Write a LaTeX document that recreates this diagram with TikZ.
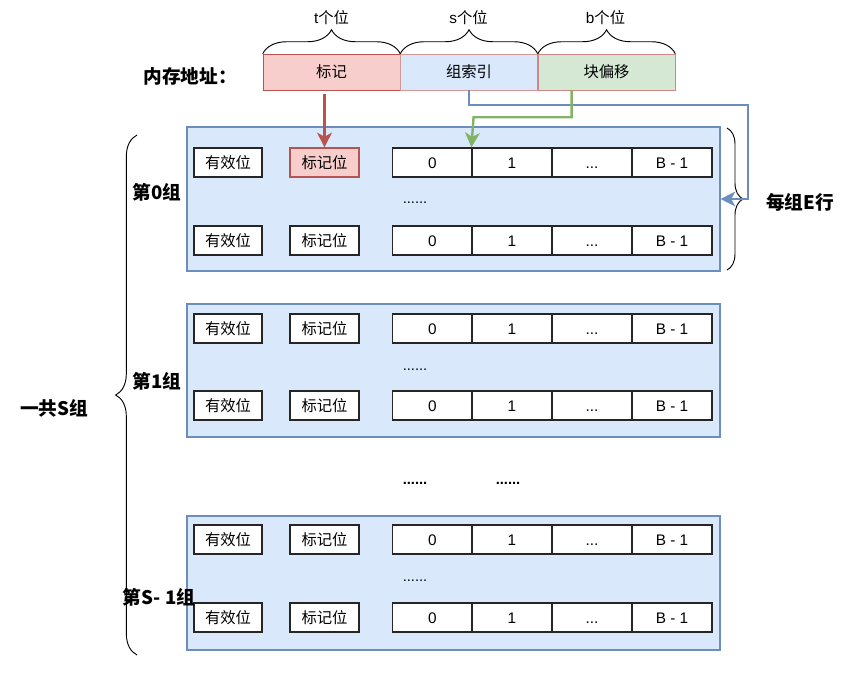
\documentclass[tikz,border=0pt]{standalone}
\usepackage{fontspec}
\setmainfont{Noto Sans CJK SC}
\newfontfamily\latinfont{Liberation Sans}
\usetikzlibrary{positioning,arrows.meta,decorations.pathreplacing}
\definecolor{tagfill}{HTML}{F8CECC}
\definecolor{tagline}{HTML}{B85450}
\definecolor{setfill}{HTML}{DAE8FC}
\definecolor{setline}{HTML}{6C8EBF}
\definecolor{offfill}{HTML}{D5E8D4}
\definecolor{offline}{HTML}{82B366}
\newcommand{\blkdots}{{\latinfont...}}
\tikzset{
  field/.style={minimum width=102.75pt,minimum height=27pt,inner sep=0pt},
  cell/.style={draw=black!85,line width=0.9pt,minimum height=21.75pt,inner sep=0pt},
  block/.style={cell,fill=white,minimum width=60pt,text height=8.3pt,text depth=0pt,
    font=\fontsize{11.5}{13}\selectfont\latinfont},
  groupbox/.style={draw=setline,fill=setfill,line width=0.8pt,minimum width=399.75pt,inner sep=0pt},
  curly/.style={decorate,line width=0.7pt},
  title/.style={font=\fontsize{14}{16}\selectfont\bfseries},
  dots/.style={font=\fontsize{11}{13}\selectfont\latinfont},
  lookup/.style={-{Stealth[length=11pt,width=11pt,inset=3pt]},line width=1.8pt}
}

\begin{document}
\begin{tikzpicture}[x=0.75pt,y=-0.75pt,font=\fontsize{11.5}{13}\selectfont]
  \useasboundingbox (0,0) rectangle (851,686);
  % memory address
  \node[field,draw=tagline,fill=tagfill] (tag) at (331.5,72) {标记};
  \node[field,draw=tagline!60,fill=setfill,right=0pt of tag] (idx) {组索引};
  \node[field,draw=tagline!70,fill=offfill,right=0pt of idx] (off) {块偏移};
  \draw[offline,line width=0.7pt] (off.north west) -- (off.south west);
  \node[title] (addr) at (190,76) {内存地址：};
  \draw[curly,decoration={brace,amplitude=18pt}] (tag.north west) -- (tag.north east);
  \draw[curly,decoration={brace,amplitude=18pt}] (idx.north west) -- (idx.north east);
  \draw[curly,decoration={brace,amplitude=18pt}] (off.north west) -- (off.north east);
  \node (tbits) at (331.5,18) {{\latinfont t}个位};
  \node (sbits) at (468.5,18) {{\latinfont s}个位};
  \node (bbits) at (605.5,18) {{\latinfont b}个位};
  % the S groups
  \foreach \g/\cy/\h/\ya/\yb/\dy/\lx/\ly/\name/\tf/\td in {
      0/199/144/162.5/240.5/203/157/192/第0组/tagfill/tagline,
      1/370.5/133/328.5/405.5/370/157/381/第1组/white/black!85,
      2/583/134/539.5/617.5/581/159/597/第S- 1组/white/black!85}{
    \node[groupbox,minimum height=\h*0.75pt] (g\g) at (453.5,\cy) {};
    \foreach \r/\y/\rf/\rd in {a/\ya/\tf/\td,b/\yb/white/black!85}{
      \node[cell,fill=white,minimum width=51pt] (v\g\r) at (228,\y) {有效位};
      \node[cell,fill=\rf,draw=\rd,minimum width=51.75pt] (t\g\r) at (324.5,\y) {标记位};
      \foreach \k/\x/\txt in {0/432.5/0,1/512/1,2/592/\blkdots,3/672/B - 1}
        \node[block] (d\g\r\k) at (\x,\y) {\txt};
    }
    \node[dots] (m\g) at (415,\dy) {\blkdots\blkdots};
    \node[title] (l\g) at (\lx,\ly) {\name};
  }
  \node[dots,font=\fontsize{11}{13}\selectfont\latinfont\bfseries] (gapa) at (415,483) {......};
  \node[dots,font=\fontsize{11}{13}\selectfont\latinfont\bfseries] (gapb) at (508,483) {......};
  % braces round the groups
  \draw[curly,decoration={brace,amplitude=16pt}] (137,655) -- (137,135);
  \node[title] (total) at (54,408) {一共S组};
  \draw[curly,decoration={brace,amplitude=12pt}] (727,128) -- (727,270);
  \node[title] (lines) at (800,202) {每组E行};
  % lookups
  \draw[lookup,tagline] ([yshift=-3pt]t0a.north |- tag.south) -- (t0a.north);
  \draw[lookup,setline] (idx.south) |- ++(279,15) |- (g0.east);
  \draw[lookup,offline] ([xshift=-26.25pt]off.south) |- ++(-98,27) -- (d0a1.north west);
\end{tikzpicture}
\end{document}
